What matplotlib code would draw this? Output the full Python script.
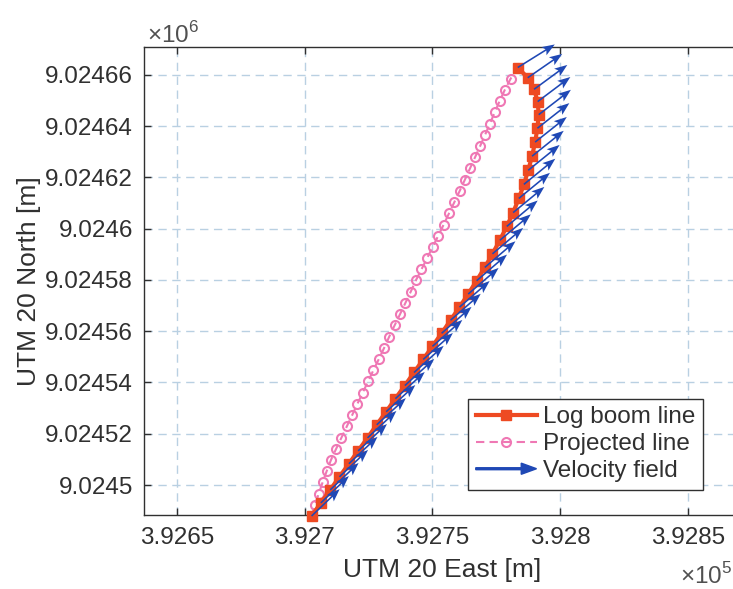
import numpy as np
import matplotlib
matplotlib.use('Agg')
import matplotlib.pyplot as plt
import matplotlib.patches as mpatches
from matplotlib.lines import Line2D
from matplotlib.legend_handler import HandlerPatch

plt.rcParams['font.family'] = ['Liberation Sans', 'DejaVu Sans']
plt.rcParams['mathtext.fontset'] = 'custom'
plt.rcParams['mathtext.rm'] = 'Liberation Sans'

# --- data (metres, relative to the UTM origin below) ---
E0 = 392700.0
N0 = 9024500.0

# log boom line nodes
boom_e = [2.7, 6.3, 10.0, 13.6, 17.3, 20.9, 24.6, 28.2, 31.9, 35.5,
          39.2, 42.8, 46.4, 50.0, 53.6, 57.1, 60.6, 64.0, 67.3, 70.5,
          73.5, 76.4, 79.1, 81.6, 83.8, 85.8, 87.5, 89.0, 90.2, 91.1,
          91.6, 91.2, 89.8, 87.3, 83.4]
boom_n = [-12.1, -7.0, -1.9, 3.2, 8.3, 13.3, 18.4, 23.5, 28.6, 33.7,
          38.8, 43.9, 49.0, 54.1, 59.2, 64.3, 69.4, 74.5, 79.7, 84.9,
          90.2, 95.5, 100.9, 106.3, 111.8, 117.3, 122.8, 128.3, 133.8, 139.2,
          144.5, 149.6, 154.4, 158.9, 162.9]

# projected line nodes
proj_e = [2.7, 4.0, 5.5, 7.0, 8.6, 10.3, 12.3, 14.4, 16.5, 18.6,
          20.6, 22.7, 24.8, 26.9, 29.0, 31.1, 33.1, 35.2, 37.3, 39.4,
          41.5, 43.5, 45.7, 47.9, 50.1, 52.3, 54.4, 56.5, 58.6, 60.7,
          62.7, 64.7, 66.7, 68.7, 70.6, 72.5, 74.4, 76.3, 78.3, 80.6,
          83.4]
proj_n = [-12.1, -7.7, -3.4, 1.0, 5.4, 9.8, 14.1, 18.5, 22.9, 27.3,
          31.6, 36.0, 40.4, 44.8, 49.1, 53.5, 57.9, 62.3, 66.6, 71.0,
          75.4, 79.8, 84.1, 88.5, 92.9, 97.3, 101.6, 106.0, 110.4, 114.8,
          119.1, 123.5, 127.9, 132.3, 136.6, 141.0, 145.4, 149.8, 154.1, 158.5,
          162.9]

# velocity field at the log boom nodes
vel_u = [11.0, 11.0, 11.1, 11.2, 11.2, 11.3, 11.3, 11.4, 11.4, 11.5,
         11.5, 11.6, 11.6, 11.7, 11.7, 11.8, 11.8, 11.9, 11.9, 12.0,
         12.0, 12.1, 12.1, 12.2, 12.2, 12.3, 12.3, 12.4, 12.4, 12.5,
         12.6, 12.8, 13.0, 13.5, 14.5]
vel_v = [10.5, 10.5, 10.5, 10.5, 10.5, 10.5, 10.5, 10.4, 10.4, 10.4,
         10.4, 10.4, 10.3, 10.3, 10.3, 10.3, 10.2, 10.2, 10.2, 10.2,
         10.1, 10.1, 10.1, 10.0, 10.0, 10.0, 9.9, 9.9, 9.8, 9.8,
         9.7, 9.6, 9.5, 9.3, 9.0]

xticks = [392650, 392700, 392750, 392800, 392850]
xtick_labels = ['3.9265', '3.927', '3.9275', '3.928', '3.9285']
yticks = [9024500, 9024520, 9024540, 9024560, 9024580,
          9024600, 9024620, 9024640, 9024660]
ytick_labels = ['9.0245', '9.02452', '9.02454', '9.02456', '9.02458',
                '9.0246', '9.02462', '9.02464', '9.02466']

RED = '#ee4a22'
PINK = '#ef78b4'
BLUE = '#1f48b5'
DARK = '#303030'

bx = E0 + np.array(boom_e)
by = N0 + np.array(boom_n)
px = E0 + np.array(proj_e)
py = N0 + np.array(proj_n)

fig = plt.figure(figsize=(7.33, 5.89), dpi=100)
# axes runs off the right edge of the figure, like the cropped original
ax = fig.add_axes([144 / 733, 74 / 589, 596 / 733, 468 / 589])

ax.plot(px, py, color=PINK, lw=1.5, ls=(0, (4, 2.5)), marker='o', ms=6.5,
        mfc='none', mec=PINK, mew=1.5, clip_on=False, zorder=3)
ax.plot(bx, by, color=RED, lw=3, marker='s', ms=7.5, mfc=RED, mec=RED,
        clip_on=False, zorder=4)
ax.quiver(bx, by, vel_u, vel_v, angles='xy', scale_units='xy', scale=1,
          color=BLUE, units='dots', width=1.6, headwidth=6, headlength=8,
          headaxislength=6.5, zorder=5, clip_on=False)

ax.set_xlim(392637.1, 392870.4)
ax.set_ylim(9024488.3, 9024670.9)
ax.set_xticks(xticks)
ax.set_xticklabels(xtick_labels)
ax.set_yticks(yticks)
ax.set_yticklabels(ytick_labels)

ax.grid(True, color='#b9d0e2', ls=(0, (6, 4)), lw=1.0)
ax.set_axisbelow(True)
ax.tick_params(direction='in', length=5, width=1, colors=DARK,
               labelsize=17.5, top=True, right=True)
ax.tick_params(axis='x', pad=9)
ax.tick_params(axis='y', pad=8)
for s in ax.spines.values():
    s.set_color(DARK)
    s.set_linewidth(1.0)

ax.set_xlabel('UTM 20 East [m]', fontsize=19, color=DARK, labelpad=6)
ax.set_ylabel('UTM 20 North [m]', fontsize=19, color=DARK, labelpad=3)

fig.text(147 / 733, 1 - 43 / 589, '×10$^{6}$', fontsize=17.5, color='#505050',
         ha='left', va='baseline')
fig.text(680 / 733, 1 - 584 / 589, '×10$^{5}$', fontsize=17.5, color='#505050',
         ha='left', va='baseline')


def make_arrow(legend, orig_handle, xdescent, ydescent, width, height, fontsize):
    return mpatches.FancyArrow(0, 0.5 * height, width, 0, width=1.4,
                               length_includes_head=True, head_width=8,
                               head_length=11, color=BLUE)


h_boom = Line2D([], [], color=RED, lw=3, marker='s', ms=7.5, mfc=RED, mec=RED)
h_proj = Line2D([], [], color=PINK, lw=1.5, ls=(0, (4, 2.5)), marker='o',
                ms=6.5, mfc='none', mec=PINK, mew=1.5)
h_vel = mpatches.FancyArrow(0, 0, 1, 0, color=BLUE)
leg = ax.legend([h_boom, h_proj, h_vel],
                ['Log boom line', 'Projected line', 'Velocity field'],
                handler_map={mpatches.FancyArrow: HandlerPatch(patch_func=make_arrow)},
                loc='lower left', bbox_to_anchor=(0.5436, 0.0534),
                borderaxespad=0, fontsize=17.5, handlelength=2.5,
                handletextpad=0.25, labelspacing=0.2, borderpad=0.32,
                fancybox=False, framealpha=1, edgecolor=DARK)
leg.get_frame().set_linewidth(1.0)
for t in leg.get_texts():
    t.set_color(DARK)

fig.savefig('out.png', dpi=100)
